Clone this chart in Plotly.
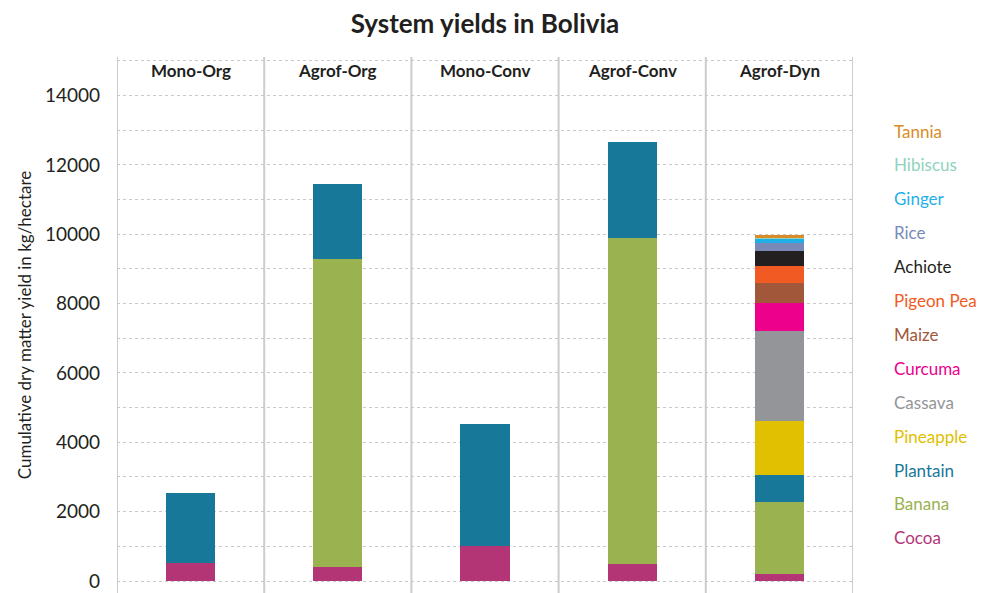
import plotly.graph_objects as go

systems = ["Mono-Org", "Agrof-Org", "Mono-Conv", "Agrof-Conv", "Agrof-Dyn"]

crops = ["Cocoa", "Banana", "Plantain", "Pineapple", "Cassava", "Curcuma", "Maize",
         "Pigeon Pea", "Achiote", "Rice", "Ginger", "Hibiscus", "Tannia"]

cocoa = [520, 405, 1020, 490, 200]
banana = [0, 8880, 0, 9410, 2080]
plantain = [2020, 2165, 3510, 2755, 780]
pineapple = [0, 0, 0, 0, 1555]
cassava = [0, 0, 0, 0, 2595]
curcuma = [0, 0, 0, 0, 800]
maize = [0, 0, 0, 0, 580]
pigeon_pea = [0, 0, 0, 0, 495]
achiote = [0, 0, 0, 0, 435]
rice = [0, 0, 0, 0, 240]
ginger = [0, 0, 0, 0, 105]
hibiscus = [0, 0, 0, 0, 55]
tannia = [0, 0, 0, 0, 50]

values = [cocoa, banana, plantain, pineapple, cassava, curcuma, maize,
          pigeon_pea, achiote, rice, ginger, hibiscus, tannia]

colors = ["#b43576", "#9ab24f", "#187899", "#e0c000", "#939598", "#ec008c", "#a0573a",
          "#f15a22", "#231f20", "#7a8ab8", "#1fb0e8", "#8fd3bd", "#d98c27"]

y_ticks = [0, 2000, 4000, 6000, 8000, 10000, 12000, 14000]

FONT = "Lato"

fig = go.Figure()
for name, vals, col in zip(crops, values, colors):
    fig.add_trace(go.Bar(x=systems, y=vals, name=name, marker_color=col,
                         marker_line_width=0, width=0.333, showlegend=False))

W, H = 983, 593
ml, mr, mt, mb = 117, 130, 57, 0
ph = H - mt - mb
pw = W - ml - mr

# separators between panels
for i in range(len(systems) + 1):
    fig.add_shape(type="line", xref="x", yref="paper", x0=i - 0.5, x1=i - 0.5,
                  y0=0, y1=1, line=dict(color="#cccccc", width=2), layer="below")

# category labels
for s in systems:
    fig.add_annotation(x=s, xref="x", y=(H - 70) / ph, yref="paper", text="<b>" + s + "</b>",
                       showarrow=False, font=dict(family=FONT, size=17, color="#231f20"),
                       yanchor="middle")

# legend as coloured labels (top = last crop)
for k, (name, col) in enumerate(zip(crops[::-1], colors[::-1])):
    ypix = 131 + k * 33.9
    fig.add_annotation(x=(892 - ml) / pw, xref="paper", y=(H - ypix) / ph, yref="paper",
                       text=name, showarrow=False, xanchor="left", yanchor="middle",
                       font=dict(family=FONT, size=17, color=col))

fig.update_layout(
    width=W, height=H,
    margin=dict(l=ml, r=mr, t=mt, b=mb),
    barmode="stack",
    plot_bgcolor="white", paper_bgcolor="white",
    title=dict(text="<b>System yields in Bolivia</b>", x=(ml + pw / 2) / W, xanchor="center",
               y=1 - 24 / H, yanchor="middle",
               font=dict(family=FONT, size=26, color="#231f20")),
    font=dict(family=FONT, color="#231f20"),
    xaxis=dict(range=[-0.5, 4.5], showticklabels=False, showgrid=False, zeroline=False,
               showline=False, ticks=""),
    yaxis=dict(range=[-346, 15114], tickvals=y_ticks, ticktext=[str(v) for v in y_ticks],
               tickfont=dict(family=FONT, size=19, color="#231f20"),
               showgrid=True, gridcolor="#c8c8c8", griddash="dot", gridwidth=1,
               minor=dict(dtick=1000, tick0=0, showgrid=True, gridcolor="#c8c8c8",
                          griddash="dot", gridwidth=1),
               zeroline=False, showline=False, ticks="", ticklabelstandoff=16,
               title=dict(text="Cumulative dry matter yield in kg/hectare",
                          font=dict(family=FONT, size=17, color="#231f20"), standoff=8)),
)

fig.write_html("out.html", config={"displayModeBar": False},
               post_script="document.body.style.margin='0';document.body.style.overflow='hidden';")
